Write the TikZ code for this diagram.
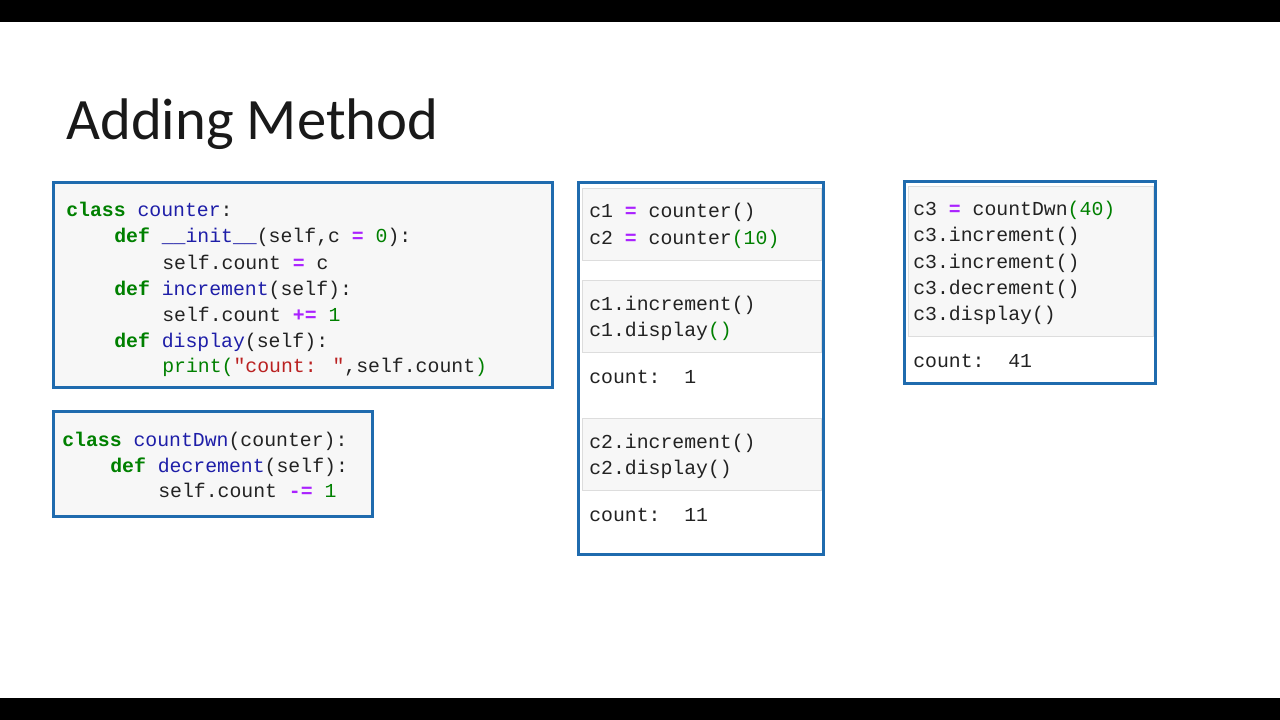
\documentclass[tikz,border=0pt]{standalone}
\usepackage{fontspec}
\setmainfont{Carlito}
\newfontfamily\codefont{Liberation Mono}
\definecolor{bluebd}{HTML}{1F6BAE}
\definecolor{cellbg}{HTML}{F7F7F7}
\definecolor{cellbd}{HTML}{DDDDDD}
\definecolor{kwc}{HTML}{008000}
\definecolor{nmc}{HTML}{1E1EA8}
\definecolor{opc}{HTML}{AA22FF}
\definecolor{stc}{HTML}{BA2121}
\definecolor{txc}{HTML}{222222}
\newcommand{\ckw}[1]{\textcolor{kwc}{\textbf{#1}}}
\newcommand{\cnm}[1]{\textcolor{nmc}{#1}}
\newcommand{\cop}[1]{\textcolor{opc}{\textbf{#1}}}
\newcommand{\cgr}[1]{\textcolor{kwc}{#1}}
\newcommand{\cst}[1]{\textcolor{stc}{#1}}
\begin{document}
\begin{tikzpicture}[x=0.75pt,y=-0.75pt,
  code/.style={anchor=base west,inner sep=0,text=txc,font=\codefont\fontsize{14.85pt}{18pt}\selectfont},
  box/.style={draw=bluebd,line width=2.25pt},
  cell/.style={draw=cellbd,fill=cellbg,line width=0.6pt}]
\useasboundingbox (0,0) rectangle (1280,720);
\fill[white] (0,0) rectangle (1280,720);
\fill[black] (0,0) rectangle (1280,22);
\fill[black] (0,698) rectangle (1280,720);
\node[anchor=base west,inner sep=0,font=\fontsize{44pt}{50pt}\selectfont,text=black!90] (title) at (66,140) {Adding Method};
% box 1
\draw[box,fill=cellbg] (53,183) rectangle (552,387);
\node[code] (a1) at (66,217) {\ckw{class} \cnm{counter}:};
\node[code] (a2) at (114,243) {\ckw{def} \cnm{\_\_init\_\_}(self,c \cop{=} \cgr{0}):};
\node[code] (a3) at (162,269) {self.count \cop{=} c};
\node[code] (a4) at (114,295) {\ckw{def} \cnm{increment}(self):};
\node[code] (a5) at (162,321) {self.count \cop{+=} \cgr{1}};
\node[code] (a6) at (114,347) {\ckw{def} \cnm{display}(self):};
\node[code] (a7) at (162,372) {\cgr{print(}\cst{"count: "},self.count\cgr{)}};
% box 2
\draw[box,fill=cellbg] (53,411) rectangle (372,516);
\node[code] (b1) at (62,446) {\ckw{class} \cnm{countDwn}(counter):};
\node[code] (b2) at (110,472) {\ckw{def} \cnm{decrement}(self):};
\node[code] (b3) at (158,497) {self.count \cop{-=} \cgr{1}};
% box 3
\draw[box,fill=white] (578,183) rectangle (823,554);
\draw[cell] (582,188) rectangle (821,260);
\draw[cell] (582,280) rectangle (821,352);
\draw[cell] (582,418) rectangle (821,490);
\node[code] (c1) at (589,218) {c1 \cop{=} counter()};
\node[code] (c2) at (589,244) {c2 \cop{=} counter\cgr{(10)}};
\node[code] (c3) at (589,310) {c1.increment()};
\node[code] (c4) at (589,336) {c1.display\cgr{()}};
\node[code] (c5) at (589,383) {count:\ \ 1};
\node[code] (c6) at (589,448) {c2.increment()};
\node[code] (c7) at (589,474) {c2.display()};
\node[code] (c8) at (589,521) {count:\ \ 11};
% box 4
\draw[box,fill=white] (904,182) rectangle (1155,383);
\draw[cell] (908,186) rectangle (1153,336);
\node[code] (d1) at (913,216) {c3 \cop{=} countDwn\cgr{(40)}};
\node[code] (d2) at (913,242) {c3.increment()};
\node[code] (d3) at (913,268) {c3.increment()};
\node[code] (d4) at (913,294) {c3.decrement()};
\node[code] (d5) at (913,320) {c3.display()};
\node[code] (d6) at (913,367) {count:\ \ 41};
\end{tikzpicture}
\end{document}
